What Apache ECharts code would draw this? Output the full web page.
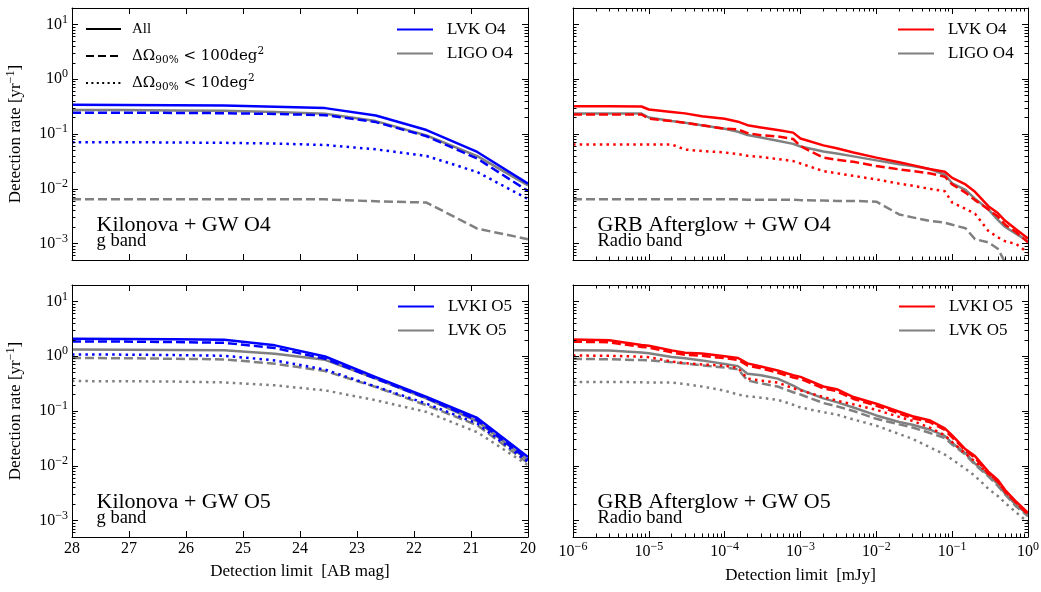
<!DOCTYPE html>
<html>
<head>
<meta charset="utf-8">
<script src="https://cdn.jsdelivr.net/npm/echarts@6/dist/echarts.min.js"></script>
<style>
  html, body { margin: 0; padding: 0; background: #fff; }
  #chart { width: 1041px; height: 592px; }
</style>
</head>
<body>
<div id="chart"></div>
<script>
// ---- Detection limits (x values) ----
const magLimits = [28, 27.11, 26.22, 25.33, 24.44, 23.56, 22.67, 21.78, 20.89, 20];
const fluxLimits = [1e-6, 3e-6, 8e-6, 1e-5, 2e-5, 3e-5, 5e-5, 1e-4, 1.5e-4, 2e-4, 3e-4, 5e-4, 8e-4,
  1e-3, 2e-3, 3e-3, 5e-3, 1e-2, 2e-2, 3e-2, 5e-2, 8e-2, 0.1, 0.15, 0.2, 0.3, 0.4, 0.5, 0.7, 1];

// ---- Tick labels ----
const magTicks = [28, 27, 26, 25, 24, 23, 22, 21, 20];
const fluxTicks = [1e-6, 1e-5, 1e-4, 1e-3, 1e-2, 1e-1, 1];
const rateTicks = [1e-3, 1e-2, 1e-1, 1, 10];

// ---- Kilonova + GW O4, g band (rate per year) ----
const knO4LvkAll   = [0.342, 0.34, 0.335, 0.33, 0.315, 0.297, 0.218, 0.118, 0.047, 0.0124];
const knO4Lvk100   = [0.244, 0.244, 0.243, 0.24, 0.232, 0.221, 0.165, 0.091, 0.0355, 0.0091];
const knO4Lvk10    = [0.071, 0.071, 0.07, 0.069, 0.067, 0.063, 0.0525, 0.0397, 0.0202, 0.0065];
const knO4LigoAll  = [0.275, 0.274, 0.27, 0.266, 0.252, 0.234, 0.172, 0.094, 0.0395, 0.0115];
const knO4Ligo100  = [0.0064, 0.0064, 0.0064, 0.0064, 0.0064, 0.0064, 0.0059, 0.0056, 0.00187, 0.0012];

// ---- Kilonova + GW O5, g band ----
const knO5LvkiAll  = [2.08, 2.07, 2.05, 2.0, 1.58, 0.99, 0.417, 0.18, 0.0745, 0.0145];
const knO5Lvki100  = [1.86, 1.85, 1.82, 1.76, 1.41, 0.9, 0.39, 0.172, 0.068, 0.013];
const knO5Lvki10   = [1.08, 1.07, 1.05, 1.02, 0.84, 0.57, 0.28, 0.136, 0.059, 0.0118];
const knO5LvkAll   = [1.33, 1.32, 1.3, 1.28, 1.11, 0.86, 0.39, 0.168, 0.065, 0.0126];
const knO5Lvk100   = [0.93, 0.92, 0.9, 0.875, 0.73, 0.537, 0.274, 0.127, 0.055, 0.0112];
const knO5Lvk10    = [0.352, 0.35, 0.345, 0.333, 0.294, 0.238, 0.157, 0.096, 0.041, 0.0102];

// ---- GRB afterglow + GW O4, radio band ----
const grbO4LvkAll  = [0.32, 0.32, 0.318, 0.28, 0.251, 0.238, 0.211, 0.19, 0.168, 0.145, 0.132, 0.118, 0.106,
  0.083, 0.062, 0.055, 0.046, 0.037, 0.0305, 0.027, 0.023, 0.0205, 0.0158, 0.012, 0.0088, 0.0048, 0.0036, 0.0026, 0.0018, 0.00123];
const grbO4Lvk100  = [0.228, 0.228, 0.227, 0.19, 0.172, 0.16, 0.144, 0.125, 0.121, 0.104, 0.095, 0.09, 0.081,
  0.06, 0.037, 0.034, 0.031, 0.026, 0.0226, 0.021, 0.0192, 0.0166, 0.012, 0.0085, 0.0062, 0.0042, 0.0031, 0.0022, 0.0016, 0.00105];
const grbO4Lvk10   = [0.0645, 0.0645, 0.0645, 0.0645, 0.0645, 0.052, 0.049, 0.046, 0.043, 0.04, 0.038, 0.035, 0.032,
  0.029, 0.021, 0.0192, 0.0172, 0.0148, 0.0124, 0.0114, 0.01, 0.009, 0.0056, 0.0043, 0.0035, 0.0017, 0.0013, 0.0011, 0.00098, 0.00068];
const grbO4LigoAll = [0.238, 0.238, 0.236, 0.2, 0.172, 0.16, 0.144, 0.125, 0.11, 0.096, 0.086, 0.075, 0.066,
  0.059, 0.048, 0.044, 0.039, 0.033, 0.028, 0.026, 0.023, 0.018, 0.0126, 0.0095, 0.0066, 0.0042, 0.0027, 0.002, 0.0015, 0.0011];
const grbO4Ligo100 = [0.0064, 0.0064, 0.0064, 0.0064, 0.0064, 0.0064, 0.0064, 0.0064, 0.0064, 0.0063, 0.0063, 0.0063, 0.0063,
  0.0062, 0.0061, 0.006, 0.006, 0.0058, 0.0034, 0.003, 0.0026, 0.0024, 0.0022, 0.0019, 0.0012, 0.00105, 0.0008, 0.00045, 0.0003, 0.0002];

// ---- GRB afterglow + GW O5, radio band ----
const grbO5LvkiAll = [2.02, 1.96, 1.6, 1.56, 1.28, 1.16, 1.12, 1.0, 0.93, 0.74, 0.65, 0.55, 0.45,
  0.42, 0.28, 0.25, 0.18, 0.136, 0.097, 0.08, 0.068, 0.048, 0.036, 0.02, 0.015, 0.0078, 0.0055, 0.0036, 0.0022, 0.00138];
const grbO5Lvki100 = [1.84, 1.8, 1.48, 1.44, 1.18, 1.06, 1.02, 0.92, 0.86, 0.68, 0.6, 0.5, 0.41,
  0.385, 0.26, 0.23, 0.166, 0.125, 0.09, 0.074, 0.063, 0.045, 0.033, 0.019, 0.014, 0.0072, 0.0051, 0.0034, 0.0021, 0.0013];
const grbO5Lvki10  = [1.03, 1.02, 0.98, 0.96, 0.8, 0.75, 0.71, 0.67, 0.61, 0.39, 0.36, 0.33, 0.26,
  0.238, 0.18, 0.155, 0.132, 0.105, 0.078, 0.066, 0.05, 0.036, 0.027, 0.0166, 0.012, 0.0072, 0.0052, 0.0033, 0.0021, 0.0013];
const grbO5LvkAll  = [1.28, 1.27, 1.17, 1.13, 0.97, 0.92, 0.84, 0.72, 0.66, 0.48, 0.45, 0.39, 0.29,
  0.245, 0.17, 0.145, 0.116, 0.083, 0.063, 0.056, 0.046, 0.035, 0.026, 0.017, 0.011, 0.0068, 0.0046, 0.0031, 0.0019, 0.0013];
const grbO5Lvk100  = [0.9, 0.88, 0.85, 0.84, 0.78, 0.74, 0.68, 0.62, 0.58, 0.36, 0.32, 0.28, 0.22,
  0.2, 0.14, 0.122, 0.1, 0.072, 0.057, 0.05, 0.04, 0.032, 0.0245, 0.016, 0.0105, 0.0064, 0.0043, 0.003, 0.0018, 0.0012];
const grbO5Lvk10   = [0.34, 0.34, 0.335, 0.33, 0.33, 0.31, 0.28, 0.235, 0.2, 0.185, 0.175, 0.16, 0.13,
  0.116, 0.095, 0.086, 0.07, 0.054, 0.038, 0.031, 0.022, 0.016, 0.013, 0.0088, 0.0065, 0.0038, 0.0028, 0.0021, 0.0014, 0.00093];

// ---- Styling ----
const FONT = "'Liberation Serif', 'DejaVu Serif', 'Times New Roman', serif";
const MATH_FONT = "'DejaVu Serif', 'Liberation Serif', serif";
const BLUE = '#0000ff', RED = '#ff0000', GRAY = '#808080', BLACK = '#000000';
const SOLID = 'solid', DASHED = [9, 4], DOTTED = [2.5, 4.2];
const RATE_MIN = 5e-4, RATE_MAX = 20;

const panels = [
  { left: 72,  top: 8,   width: 456, height: 252, kind: 'mag',  xLabels: false, yLabels: true },
  { left: 573, top: 8,   width: 455, height: 252, kind: 'flux', xLabels: false, yLabels: false },
  { left: 72,  top: 285, width: 456, height: 252, kind: 'mag',  xLabels: true,  yLabels: true,  xName: 'Detection limit  [AB mag]', xNameGap: 26 },
  { left: 573, top: 285, width: 455, height: 252, kind: 'flux', xLabels: true,  yLabels: false, xName: 'Detection limit  [mJy]', xNameGap: 30 }
];

// curves per panel: gray first so the coloured lines sit on top
const panelCurves = [
  [
    { name: 'LIGO O4', y: knO4LigoAll, color: GRAY, type: SOLID },
    { name: 'LIGO O4 ΔΩ<100', y: knO4Ligo100, color: GRAY, type: DASHED },
    { name: 'LVK O4', y: knO4LvkAll, color: BLUE, type: SOLID },
    { name: 'LVK O4 ΔΩ<100', y: knO4Lvk100, color: BLUE, type: DASHED },
    { name: 'LVK O4 ΔΩ<10', y: knO4Lvk10, color: BLUE, type: DOTTED }
  ],
  [
    { name: 'LIGO O4', y: grbO4LigoAll, color: GRAY, type: SOLID },
    { name: 'LIGO O4 ΔΩ<100', y: grbO4Ligo100, color: GRAY, type: DASHED },
    { name: 'LVK O4', y: grbO4LvkAll, color: RED, type: SOLID },
    { name: 'LVK O4 ΔΩ<100', y: grbO4Lvk100, color: RED, type: DASHED },
    { name: 'LVK O4 ΔΩ<10', y: grbO4Lvk10, color: RED, type: DOTTED }
  ],
  [
    { name: 'LVK O5', y: knO5LvkAll, color: GRAY, type: SOLID },
    { name: 'LVK O5 ΔΩ<100', y: knO5Lvk100, color: GRAY, type: DASHED },
    { name: 'LVK O5 ΔΩ<10', y: knO5Lvk10, color: GRAY, type: DOTTED },
    { name: 'LVKI O5', y: knO5LvkiAll, color: BLUE, type: SOLID },
    { name: 'LVKI O5 ΔΩ<100', y: knO5Lvki100, color: BLUE, type: DASHED },
    { name: 'LVKI O5 ΔΩ<10', y: knO5Lvki10, color: BLUE, type: DOTTED }
  ],
  [
    { name: 'LVK O5', y: grbO5LvkAll, color: GRAY, type: SOLID },
    { name: 'LVK O5 ΔΩ<100', y: grbO5Lvk100, color: GRAY, type: DASHED },
    { name: 'LVK O5 ΔΩ<10', y: grbO5Lvk10, color: GRAY, type: DOTTED },
    { name: 'LVKI O5', y: grbO5LvkiAll, color: RED, type: SOLID },
    { name: 'LVKI O5 ΔΩ<100', y: grbO5Lvki100, color: RED, type: DASHED },
    { name: 'LVKI O5 ΔΩ<10', y: grbO5Lvki10, color: RED, type: DOTTED }
  ]
];

const panelTitles = [
  { title: 'Kilonova + GW O4', sub: 'g band' },
  { title: 'GRB Afterglow + GW O4', sub: 'Radio band' },
  { title: 'Kilonova + GW O5', sub: 'g band' },
  { title: 'GRB Afterglow + GW O5', sub: 'Radio band' }
];

// ---- Helpers ----
function logMinors(lo, hi) {
  const out = [];
  for (let e = Math.floor(Math.log10(lo)); e <= Math.ceil(Math.log10(hi)); e++) {
    for (let k = 2; k <= 9; k++) {
      const v = k * Math.pow(10, e);
      if (v > lo * 1.0001 && v < hi * 0.9999) out.push(v);
    }
  }
  return out;
}

const powRich = {
  b: { fontFamily: FONT, fontSize: 16, lineHeight: 22, color: BLACK },
  s: { fontFamily: FONT, fontSize: 12, lineHeight: 14, verticalAlign: 'top', color: BLACK }
};
function powLabel(v) {
  const e = Math.round(Math.log10(v));
  return '{b|10}{s|' + (e < 0 ? '\u2212' + (-e) : String(e)) + '}';
}

function baseAxis(g, position, scale) {
  return Object.assign({
    gridIndex: g,
    position: position,
    axisLine: { show: false, onZero: false, lineStyle: { color: BLACK, width: 1 } },
    axisTick: { show: false },
    axisLabel: { show: false },
    splitLine: { show: false },
    minorTick: { show: false },
    minorSplitLine: { show: false },
    axisPointer: { show: false },
    silent: true,
    z: 10
  }, scale);
}

function tickSet(values, len) {
  return values.length
    ? { show: true, inside: true, length: len, customValues: values, lineStyle: { color: BLACK, width: 1 } }
    : { show: false };
}

const xAxes = [], yAxes = [];
const rateMinors = logMinors(RATE_MIN, RATE_MAX);

panels.forEach((p, g) => {
  const isMag = p.kind === 'mag';
  const xScale = isMag
    ? { type: 'value', min: 20, max: 28, inverse: true }
    : { type: 'log', logBase: 10, min: 1e-6, max: 1 };
  const xMajor = isMag ? magTicks : fluxTicks;
  const xMinor = isMag ? [] : logMinors(1e-6, 1);

  // bottom: frame, major ticks, labels, name
  const xMain = baseAxis(g, 'bottom', xScale);
  xMain.axisLine.show = true;
  xMain.axisTick = tickSet(xMajor, 6);
  if (p.xLabels) {
    xMain.axisLabel = isMag
      ? { show: true, customValues: xMajor, margin: 4, fontFamily: FONT, fontSize: 16, color: BLACK,
          formatter: v => String(v) }
      : { show: true, customValues: xMajor, margin: 4, formatter: powLabel, rich: powRich };
    xMain.name = p.xName;
    xMain.nameLocation = 'middle';
    xMain.nameGap = p.xNameGap;
    xMain.nameTextStyle = { fontFamily: FONT, fontSize: 17, color: BLACK };
  }
  const xMinorBottom = baseAxis(g, 'bottom', xScale);
  xMinorBottom.axisTick = tickSet(xMinor, 3.5);
  const xTop = baseAxis(g, 'top', xScale);
  xTop.axisLine.show = true;
  xTop.axisTick = tickSet(xMajor, 6);
  const xMinorTop = baseAxis(g, 'top', xScale);
  xMinorTop.axisTick = tickSet(xMinor, 3.5);
  xAxes.push(xMain, xMinorBottom, xTop, xMinorTop);

  const yScale = { type: 'log', logBase: 10, min: RATE_MIN, max: RATE_MAX };
  const yMain = baseAxis(g, 'left', yScale);
  yMain.axisLine.show = true;
  yMain.axisTick = tickSet(rateTicks, 6);
  if (p.yLabels) {
    yMain.axisLabel = { show: true, customValues: rateTicks, margin: 4, formatter: powLabel, rich: powRich };
    yMain.name = 'Detection rate [yr{s|\u22121}]';
    yMain.nameLocation = 'middle';
    yMain.nameRotate = 90;
    yMain.nameGap = 45;
    yMain.nameTextStyle = {
      fontFamily: FONT, fontSize: 17, lineHeight: 22, color: BLACK,
      rich: { s: { fontFamily: FONT, fontSize: 12, lineHeight: 14, verticalAlign: 'top', color: BLACK } }
    };
  }
  const yMinorLeft = baseAxis(g, 'left', yScale);
  yMinorLeft.axisTick = tickSet(rateMinors, 3.5);
  const yRight = baseAxis(g, 'right', yScale);
  yRight.axisLine.show = true;
  yRight.axisTick = tickSet(rateTicks, 6);
  const yMinorRight = baseAxis(g, 'right', yScale);
  yMinorRight.axisTick = tickSet(rateMinors, 3.5);
  yAxes.push(yMain, yMinorLeft, yRight, yMinorRight);
});

// ---- Series ----
const series = [];
panels.forEach((p, g) => {
  const xs = p.kind === 'mag' ? magLimits : fluxLimits;
  panelCurves[g].forEach((c, i) => {
    series.push({
      type: 'line',
      name: c.name,
      xAxisIndex: 4 * g,
      yAxisIndex: 4 * g,
      data: xs.map((x, k) => [x, c.y[k]]),
      symbol: 'none',
      showSymbol: false,
      clip: true,
      silent: true,
      emphasis: { disabled: true },
      lineStyle: { color: c.color, width: 2.5, type: c.type, cap: 'butt', join: 'round' },
      itemStyle: { color: c.color },
      z: 2 + i
    });
  });
});

// line-style key entries (no data, shown only in the legend)
const STYLE_ALL = 'All', STYLE_100 = 'ΔΩ90% < 100deg2', STYLE_10 = 'ΔΩ90% < 10deg2';
[[STYLE_ALL, SOLID], [STYLE_100, [8, 4]], [STYLE_10, [2, 3.4]]].forEach(([name, type]) => {
  series.push({
    type: 'line', name: name, xAxisIndex: 0, yAxisIndex: 0, data: [],
    symbol: 'none', showSymbol: false, silent: true,
    lineStyle: { color: BLACK, width: 2, type: type, cap: 'butt' },
    itemStyle: { color: BLACK }
  });
});

const styleRich = {
  t: { fontFamily: FONT, fontSize: 15, lineHeight: 20, color: BLACK },
  m: { fontFamily: MATH_FONT, fontSize: 15, lineHeight: 20, color: BLACK },
  sub: { fontFamily: MATH_FONT, fontSize: 10.5, lineHeight: 12, verticalAlign: 'bottom', color: BLACK },
  sup: { fontFamily: MATH_FONT, fontSize: 10.5, lineHeight: 13, verticalAlign: 'top', color: BLACK }
};
function styleName(name) {
  if (name === STYLE_100) return '{m|ΔΩ}{sub|90%}{m| < 100deg}{sup|2}';
  if (name === STYLE_10) return '{m|ΔΩ}{sub|90%}{m| < 10deg}{sup|2}';
  return '{t|' + name + '}';
}

function colourLegend(left, top, items) {
  return {
    left: left, top: top, orient: 'vertical', padding: 0,
    itemWidth: 36, itemHeight: 14, itemGap: 7,
    selectedMode: false,
    itemStyle: { opacity: 0 },
    textStyle: { fontFamily: FONT, fontSize: 17, color: BLACK, padding: [0, 0, 0, 9] },
    data: items
  };
}

const legends = [
  {
    left: 85, top: 19, orient: 'vertical', padding: 0,
    itemWidth: 35, itemHeight: 14, itemGap: 7,
    selectedMode: false,
    itemStyle: { opacity: 0 },
    formatter: styleName,
    textStyle: { fontFamily: FONT, fontSize: 15, lineHeight: 20, color: BLACK, padding: [0, 0, 0, 6], rich: styleRich },
    data: [
      { name: STYLE_ALL, lineStyle: { type: 'solid', color: BLACK, width: 2 } },
      { name: STYLE_100, lineStyle: { type: [8, 4], color: BLACK, width: 2 } },
      { name: STYLE_10, lineStyle: { type: [2, 3.4], color: BLACK, width: 2 } }
    ]
  },
  colourLegend(396, 21, [
    { name: 'LVK O4', lineStyle: { color: BLUE, type: 'solid' } },
    { name: 'LIGO O4', lineStyle: { color: GRAY, type: 'solid' } }
  ]),
  colourLegend(897, 21, [
    { name: 'LVK O4', lineStyle: { color: RED, type: 'solid' } },
    { name: 'LIGO O4', lineStyle: { color: GRAY, type: 'solid' } }
  ]),
  colourLegend(397, 298, [
    { name: 'LVKI O5', lineStyle: { color: BLUE, type: 'solid' } },
    { name: 'LVK O5', lineStyle: { color: GRAY, type: 'solid' } }
  ]),
  colourLegend(898, 298, [
    { name: 'LVKI O5', lineStyle: { color: RED, type: 'solid' } },
    { name: 'LVK O5', lineStyle: { color: GRAY, type: 'solid' } }
  ])
];

// ---- Panel annotations ----
const graphics = [];
panels.forEach((p, g) => {
  const x = p.left + 24.5;
  const bottom = p.top + p.height;
  graphics.push({
    type: 'text', x: x, y: bottom - 34.5, silent: true,
    style: { text: panelTitles[g].title, fontFamily: FONT, fontSize: 22, fill: BLACK, align: 'left', verticalAlign: 'middle' }
  });
  graphics.push({
    type: 'text', x: x, y: bottom - 19, silent: true,
    style: { text: panelTitles[g].sub, fontFamily: FONT, fontSize: 18.5, fill: BLACK, align: 'left', verticalAlign: 'middle' }
  });
});

const chart = echarts.init(document.getElementById('chart'), null, { renderer: 'canvas' });
chart.setOption({
  animation: false,
  backgroundColor: '#ffffff',
  textStyle: { fontFamily: FONT },
  grid: panels.map(p => ({
    left: p.left, top: p.top, width: p.width, height: p.height,
    containLabel: false, outerBoundsMode: 'none', show: false
  })),
  xAxis: xAxes,
  yAxis: yAxes,
  legend: legends,
  series: series,
  graphic: graphics
});
</script>
</body>
</html>
